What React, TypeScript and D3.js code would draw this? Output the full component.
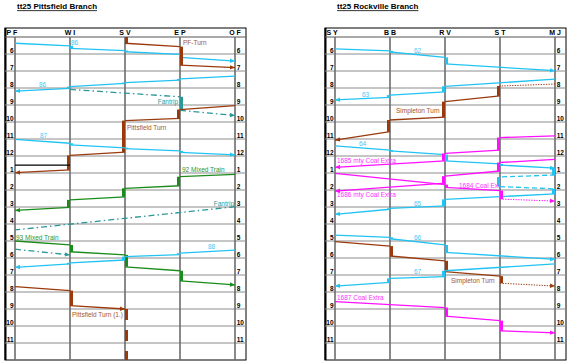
import * as React from 'react';
import * as d3 from 'd3';

// station codes along each branch (left to right)
const pfStations = ['P F', 'W I', 'S V', 'E P', 'O F'];
const rvStations = ['S Y', 'B B', 'R V', 'S T', 'M J'];

// hour lines 6am .. 11pm
const hourValues = [6, 7, 8, 9, 10, 11, 12, 13, 14, 15, 16, 17, 18, 19, 20, 21, 22, 23];
const hourLabels = ['6', '7', '8', '9', '10', '11', '12', '1', '2', '3', '4', '5', '6', '7', '8', '9', '10', '11'];

// stop = [station index, arrive, depart]
type Stop = [number, string, string?];
type Train = { id: string, kind: string, arrow: boolean, stops: Stop[] };

const pfTrains: Train[] = [
  { id: '86a', kind: 'psgr', arrow: true, stops: [[0, '5:22'], [1, '5:31', '5:40'], [2, '5:48', '5:52'], [3, '6:01', '6:12'], [4, '6:25']] },
  { id: 'pfturn', kind: 'turn', arrow: true, stops: [[2, '5:00', '5:22'], [3, '5:34', '6:39'], [4, '6:48']] },
  { id: '86b', kind: 'psgr', arrow: true, stops: [[4, '7:18'], [3, '7:28', '7:32'], [2, '7:41', '7:44'], [1, '7:55', '8:01'], [0, '8:11']] },
  { id: 'fan1', kind: 'fantrip', arrow: true, stops: [[1, '8:05'], [3, '8:31', '9:19'], [4, '9:37']] },
  { id: 'pturn', kind: 'turn', arrow: true, stops: [[4, '9:02'], [3, '9:16', '9:47'], [2, '9:55', '11:46'], [1, '11:58', '12:49'], [0, '12:59']] },
  { id: '87', kind: 'psgr', arrow: true, stops: [[0, '11:01'], [1, '11:15', '11:21'], [2, '11:31', '11:34'], [3, '11:42', '11:47'], [4, '11:56']] },
  { id: 'blk', kind: 'other', arrow: false, stops: [[0, '12:32'], [1, '12:32']] },
  { id: '92', kind: 'mixed', arrow: true, stops: [[4, '13:05'], [3, '13:13', '13:45'], [2, '13:54', '14:24'], [1, '14:35', '15:01'], [0, '15:12']] },
  { id: 'fan2', kind: 'fantrip', arrow: false, stops: [[4, '14:59'], [0, '16:21']] },
  { id: '93', kind: 'mixed', arrow: true, stops: [[0, '17:00'], [1, '17:14', '17:38'], [2, '17:49', '18:31'], [3, '18:45', '19:21'], [4, '19:35']] },
  { id: 'fan3', kind: 'fantrip', arrow: true, stops: [[0, '17:29'], [1, '17:49']] },
  { id: '88', kind: 'psgr', arrow: true, stops: [[4, '17:32'], [3, '17:43', '17:48'], [2, '17:55', '18:07'], [1, '18:17', '18:21'], [0, '18:33']] },
  { id: 'pturn1', kind: 'turn', arrow: true, stops: [[0, '19:41'], [1, '19:55', '20:48'], [2, '21:00', '24:00']] },
];

const rvTrains: Train[] = [
  { id: '62', kind: 'psgr', arrow: true, stops: [[0, '5:42'], [1, '5:49', '5:53'], [2, '6:12', '6:35'], [4, '6:59']] },
  { id: '63', kind: 'psgr', arrow: true, stops: [[4, '7:29'], [2, '7:54', '8:14'], [1, '8:25', '8:33'], [0, '8:42']] },
  { id: 'simpW', kind: 'turn', arrow: true, stops: [[4, '7:46'], [3, '7:53', '8:28'], [2, '8:48', '9:43'], [1, '9:53', '10:34'], [0, '11:04']] },
  { id: '64', kind: 'psgr', arrow: true, stops: [[0, '11:24'], [1, '11:39', '11:42'], [2, '11:55', '12:17'], [3, '12:28', '12:32'], [4, '12:43']] },
  { id: 'dh', kind: 'deadhead', arrow: false, stops: [[4, '12:43', '13:07'], [3, '13:14', '13:48'], [4, '13:56']] },
  { id: '65', kind: 'psgr', arrow: true, stops: [[4, '13:56', '14:14'], [2, '14:33', '14:56'], [1, '15:05', '15:08'], [0, '15:26']] },
  { id: '1685', kind: 'extra', arrow: true, stops: [[4, '10:49'], [3, '10:55', '11:39'], [2, '11:51', '12:17'], [0, '12:40']] },
  { id: '1686', kind: 'extra', arrow: true, stops: [[4, '12:12'], [3, '12:23', '12:53'], [2, '13:11', '13:36'], [0, '14:04']] },
  { id: '1684', kind: 'extra', arrow: true, stops: [[0, '13:01'], [2, '13:41', '13:51'], [3, '14:02', '14:32'], [4, '14:39']] },
  { id: '66', kind: 'psgr', arrow: true, stops: [[0, '16:39'], [1, '16:47', '16:52'], [2, '17:14', '17:40'], [4, '18:05']] },
  { id: 'simpE', kind: 'turn', arrow: true, stops: [[0, '17:02'], [1, '17:18', '17:53'], [2, '18:10', '18:48'], [3, '19:04', '19:29'], [4, '19:39']] },
  { id: '67', kind: 'psgr', arrow: true, stops: [[4, '18:21'], [2, '18:45', '19:06'], [1, '19:12', '19:26'], [0, '19:39']] },
  { id: '1687', kind: 'extra', arrow: true, stops: [[0, '20:34'], [2, '20:55', '21:25'], [3, '21:41', '22:17'], [4, '22:24']] },
];

// legs drawn dotted (train id -> leg index), and trains ending in a dashed layover
const dottedLegs: Record<string, number[]> = { simpW: [0], '1684': [2], simpE: [3] };
const layovers = ['pturn1'];

type Label = { text: string, kind: string, st: number, t: string, dx: number, end?: boolean, clipTo?: number };

const pfLabels: Label[] = [
  { text: '86', kind: 'psgr', st: 1, t: '5:28', dx: 1 },
  { text: 'PF-Turn', kind: 'turn', st: 3, t: '5:28', dx: 3 },
  { text: '86', kind: 'psgr', st: 0, t: '7:55', dx: 24 },
  { text: 'Fantrip', kind: 'fantrip', st: 3, t: '8:55', dx: -2, end: true },
  { text: 'Pittsfield Turn', kind: 'turn', st: 2, t: '10:28', dx: 2 },
  { text: '87', kind: 'psgr', st: 0, t: '10:55', dx: 25 },
  { text: '92 Mixed Train', kind: 'mixed', st: 3, t: '12:58', dx: 2 },
  { text: 'Fantrip', kind: 'fantrip', st: 4, t: '14:57', dx: -1, end: true },
  { text: '93 Mixed Train', kind: 'mixed', st: 0, t: '16:56', dx: 1 },
  { text: '88', kind: 'psgr', st: 3, t: '17:27', dx: 28 },
  { text: 'Pittsfield Turn (1.)', kind: 'turn', st: 1, t: '21:29', dx: 2 },
];

const rvLabels: Label[] = [
  { text: '62', kind: 'psgr', st: 1, t: '5:56', dx: 24 },
  { text: '63', kind: 'psgr', st: 0, t: '8:31', dx: 27 },
  { text: 'Simpleton Turn', kind: 'turn', st: 1, t: '9:27', dx: 6 },
  { text: '64', kind: 'psgr', st: 0, t: '11:25', dx: 24 },
  { text: '1685 mty Coal Extra', kind: 'extra', st: 0, t: '12:26', dx: 2 },
  { text: '1684 Coal Extra', kind: 'extra', st: 2, t: '13:54', dx: 14, clipTo: 3 },
  { text: '1686 mty Coal Extra', kind: 'extra', st: 0, t: '14:26', dx: 2 },
  { text: '65', kind: 'psgr', st: 1, t: '14:55', dx: 24 },
  { text: '66', kind: 'psgr', st: 1, t: '16:56', dx: 24 },
  { text: '67', kind: 'psgr', st: 1, t: '18:56', dx: 24 },
  { text: 'Simpleton Turn', kind: 'turn', st: 2, t: '19:29', dx: 6 },
  { text: '1687 Coal Extra', kind: 'extra', st: 0, t: '20:28', dx: 2 },
];

const colors: Record<string, string> = {
  psgr: '#22c3f2', deadhead: '#22c3f2', turn: '#9a3a0c', mixed: '#1b8c1b',
  fantrip: '#2b9797', extra: '#ff10ff', other: '#000000'
};
const textColors: Record<string, string> = {
  psgr: '#45c8f5', turn: '#a4552e', mixed: '#2a962a', fantrip: '#339999', extra: '#ff30ff'
};
const dashes: Record<string, string> = { fantrip: '6 3 1.5 3', deadhead: '5 3' };

const FONT = 'Arial, "Liberation Sans", sans-serif';

const toMin = (s: string) => {
  const [h, m] = s.split(':').map(Number);
  return h * 60 + m;
};

function arrowPath(x1: number, y1: number, x2: number, y2: number) {
  const a = Math.atan2(y2 - y1, x2 - x1);
  const len = 5, hw = 2.2;
  const bx = x2 - len * Math.cos(a), by = y2 - len * Math.sin(a);
  const px = -Math.sin(a) * hw, py = Math.cos(a) * hw;
  return `M${x2},${y2}L${bx + px},${by + py}L${bx - px},${by - py}Z`;
}

function Panel({ title, stations, trains, labels, x0, x1, uid }: any) {
  const top = 28, head = 37, bottom = 360;
  const x = d3.scaleLinear().domain([0, stations.length - 1]).range([x0 + 10, x1 - 11]);
  const y = d3.scaleLinear().domain([300, 1440]).range([head, bottom]);

  const trainEls = trains.map((tr: Train) => {
    const pts = tr.stops.map(s => ({ st: s[0], a: toMin(s[1]), d: toMin(s[2] ?? s[1]) }));
    const col = colors[tr.kind];
    const dots = dottedLegs[tr.id] || [];
    const els: any[] = [];
    for (let i = 0; i < pts.length - 1; i++) {
      const p = pts[i], q = pts[i + 1];
      const dotted = dots.indexOf(i) >= 0;
      els.push(<line key={'l' + i} x1={x(p.st)} y1={y(p.d)} x2={x(q.st)} y2={y(q.a)}
        stroke={col} strokeWidth={dotted ? 1 : 1.3}
        strokeDasharray={dotted ? '1.3 1.3' : dashes[tr.kind]} />);
    }
    pts.forEach((p, i) => {
      if (p.d <= p.a) return;
      const ref = i > 0 ? pts[i - 1].st : pts[i + 1].st;
      const dir = i > 0 ? Math.sign(p.st - ref) : Math.sign(ref - p.st);
      const bx = dir > 0 ? x(p.st) : x(p.st) - 3;
      if (i === pts.length - 1 && layovers.indexOf(tr.id) >= 0) {
        els.push(<line key={'w' + i} x1={bx + 1.5} x2={bx + 1.5} y1={y(p.a)} y2={y(p.d)}
          stroke={col} strokeWidth={3} strokeDasharray="11 10" />);
      } else {
        els.push(<rect key={'d' + i} x={bx} y={y(p.a)} width={3}
          height={Math.max(1.5, y(p.d) - y(p.a))} fill={col} />);
      }
    });
    if (tr.arrow) {
      const p = pts[pts.length - 2], q = pts[pts.length - 1];
      els.push(<path key="arr" d={arrowPath(x(p.st), y(p.d), x(q.st), y(q.a))} fill={col} />);
    }
    return <g key={tr.id}>{els}</g>;
  });

  return (
    <g>
      <text x={x0 + 12} y={9.3} fontFamily={FONT} fontSize={8} fontWeight="bold"
        textDecoration="underline" fill="#000">{title}</text>
      <rect x={x0} y={top} width={x1 - x0} height={bottom - top} fill="#fff" stroke="#000" strokeWidth={1} />
      <line x1={x0 + 0.5} x2={x0 + 0.5} y1={top} y2={bottom} stroke="#000" strokeWidth={2} />
      {hourValues.map((h, i) => (
        <g key={'h' + h}>
          <line x1={x0} x2={x1} y1={y(h * 60)} y2={y(h * 60)} stroke="#8c8c8c" strokeWidth={1} />
          <text x={x0 + 8.5} y={y(h * 60) - 1} textAnchor="end" fontFamily={FONT} fontSize={6.5}
            fontWeight="bold" fill="#000">{hourLabels[i]}</text>
          <text x={x1 - 9.3} y={y(h * 60) - 1} fontFamily={FONT} fontSize={6.5}
            fontWeight="bold" fill="#000">{hourLabels[i]}</text>
        </g>
      ))}
      <line x1={x0} x2={x1} y1={head} y2={head} stroke="#555" strokeWidth={1} />
      {stations.map((s: string, i: number) => (
        <g key={'s' + i}>
          <line x1={x(i)} x2={x(i)} y1={head} y2={bottom} stroke="#6c6c6c" strokeWidth={1.6} />
          <text x={i === 0 ? x0 + 1.5 : x(i)} y={34.5} textAnchor={i === 0 ? 'start' : 'middle'}
            fontFamily={FONT} fontSize={7} fontWeight="bold" fill="#000">{s}</text>
        </g>
      ))}
      {trainEls}
      <defs>
        {labels.filter((l: Label) => l.clipTo !== undefined).map((l: Label, i: number) => (
          <clipPath id={uid + 'clip' + i} key={i}>
            <rect x={x(l.st)} y={head} width={x(l.clipTo as number) - x(l.st) - 1.5} height={bottom - head} />
          </clipPath>
        ))}
      </defs>
      {labels.map((l: Label, i: number) => {
        const ci = labels.filter((m: Label) => m.clipTo !== undefined).indexOf(l);
        return (
          <text key={'t' + i} x={x(l.st) + l.dx} y={y(toMin(l.t))} textAnchor={l.end ? 'end' : 'start'}
            fontFamily={FONT} fontSize={6.5} fill={textColors[l.kind]}
            clipPath={ci >= 0 ? `url(#${uid}clip${ci})` : undefined}>{l.text}</text>
        );
      })}
    </g>
  );
}

export default function App() {
  return (
    <svg width={568} height={364} style={{ position: 'absolute', left: 0, top: 0, background: '#fff' }}>
      <rect width={568} height={364} fill="#fff" />
      <Panel uid="pf" title="tt25 Pittsfield Branch" stations={pfStations} trains={pfTrains}
        labels={pfLabels} x0={5} x1={246} />
      <Panel uid="rv" title="tt25 Rockville Branch" stations={rvStations} trains={rvTrains}
        labels={rvLabels} x0={325} x1={566} />
    </svg>
  );
}
